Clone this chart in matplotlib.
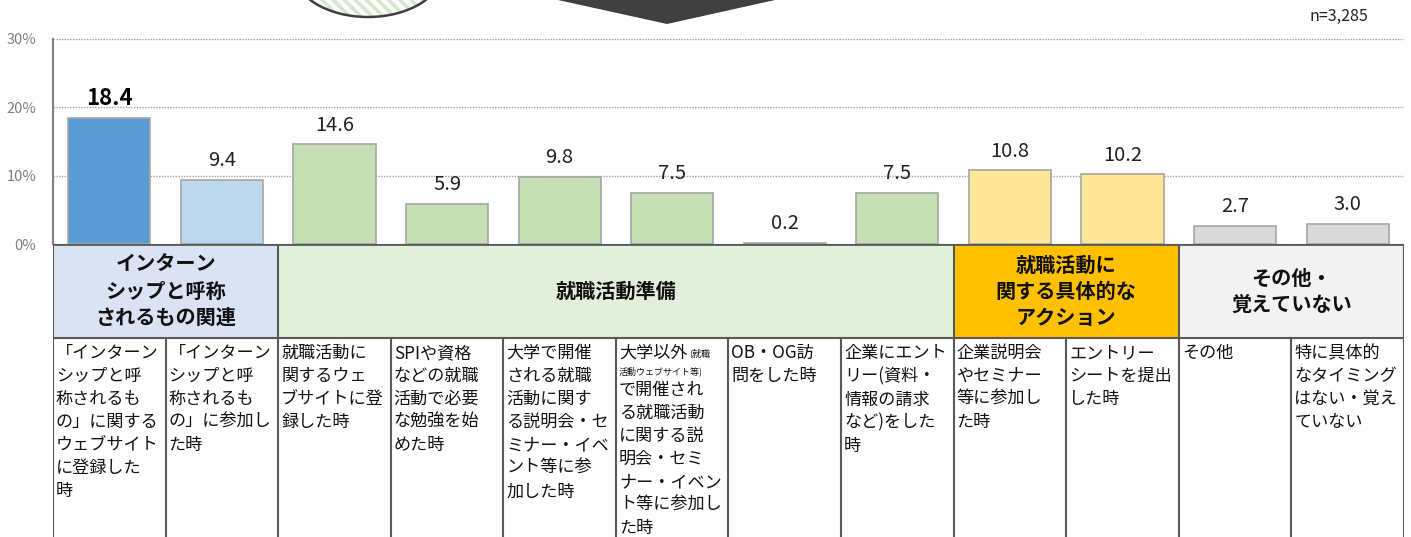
import numpy as np
import matplotlib
matplotlib.use('Agg')
import matplotlib.pyplot as plt
from matplotlib.patches import Rectangle, Ellipse, Polygon

plt.rcParams['font.family'] = ['Noto Sans CJK JP', 'DejaVu Sans']
plt.rcParams['hatch.linewidth'] = 2.5

# データ
values = [18.4, 9.4, 14.6, 5.9, 9.8, 7.5, 0.2, 7.5, 10.8, 10.2, 2.7, 3.0]
bar_colors = ['#5B9BD5', '#BDD7EE',
              '#C5E0B4', '#C5E0B4', '#C5E0B4', '#C5E0B4', '#C5E0B4', '#C5E0B4',
              '#FFE699', '#FFE699', '#D9D9D9', '#D9D9D9']
yticks = [0, 10, 20, 30]
ytick_labels = ['0%', '10%', '20%', '30%']
sample_note = 'n=3,285'

group_names = ['インターン\nシップと呼称\nされるもの関連', '就職活動準備',
               '就職活動に\n関する具体的な\nアクション', 'その他・\n覚えていない']
group_spans = [(0, 2), (2, 8), (8, 10), (10, 12)]
group_colors = ['#DAE3F3', '#E2EFDA', '#FFC000', '#F2F2F2']

item_labels = [
    '「インターン\nシップと呼\n称されるも\nの」に関する\nウェブサイト\nに登録した\n時',
    '「インターン\nシップと呼\n称されるも\nの」に参加し\nた時',
    '就職活動に\n関するウェ\nブサイトに登\n録した時',
    'SPIや資格\nなどの就職\n活動で必要\nな勉強を始\nめた時',
    '大学で開催\nされる就職\n活動に関す\nる説明会・セ\nミナー・イベ\nント等に参\n加した時',
    None,  # 下で個別に描く（小さい文字を含む）
    'OB・OG訪\n問をした時',
    '企業にエント\nリー(資料・\n情報の請求\nなど)をした\n時',
    '企業説明会\nやセミナー\n等に参加し\nた時',
    'エントリー\nシートを提出\nした時',
    'その他',
    '特に具体的\nなタイミング\nはない・覚え\nていない',
]

W, H = 1411, 537
fig = plt.figure(figsize=(W / 100, H / 100), dpi=100)

left, right = 53, 1404
y_top, y_zero = 39, 244

# 棒グラフ
ax = fig.add_axes([left / W, (H - y_zero) / H, (right - left) / W, (y_zero - y_top) / H])
x = np.arange(len(values))
ax.bar(x, values, width=0.73, color=bar_colors, edgecolor='#A6A6A6', linewidth=1.2, zorder=3)
ax.set_xlim(-0.5, len(values) - 0.5)
ax.set_ylim(0, 30)
ax.set_yticks(yticks)
ax.set_yticklabels(ytick_labels, color='#7F7F7F', fontsize=10.5)
ax.tick_params(axis='y', length=0, pad=12)
ax.set_xticks([])
ax.grid(axis='y', linestyle=(0, (1, 1)), color='#A0A0A0', linewidth=1, zorder=0)
for s in ['top', 'right', 'bottom']:
    ax.spines[s].set_visible(False)
ax.spines['left'].set_color('#808080')
ax.spines['left'].set_linewidth(1.5)

for i, v in enumerate(values):
    if i == 0:
        ax.text(i, v + 2.9, f'{v:.1f}', ha='center', va='center', fontsize=16,
                fontweight='bold', color='black', zorder=4)
    else:
        ax.text(i, v + 2.8, f'{v:.1f}', ha='center', va='center', fontsize=14.5,
                color='#222222', zorder=4)

# 表
tb_h = H - y_zero
tax = fig.add_axes([left / W, 0, (right - left) / W, tb_h / H])
tax.set_xlim(-0.5, len(values) - 0.5)
tax.set_ylim(tb_h, 0)
tax.axis('off')
head_h = 94
line_c = '#595959'
col_px = (right - left) / len(values)

for name, (a, b), c in zip(group_names, group_spans, group_colors):
    tax.add_patch(Rectangle((a - 0.5, 0), b - a, head_h, facecolor=c, edgecolor='none'))
    tax.text((a + b - 1) / 2, head_h / 2, name, ha='center', va='center',
             fontsize=14.5, fontweight='bold', linespacing=1.3, color='#111111')
    tax.plot([a - 0.5, a - 0.5], [0, head_h], color=line_c, lw=1.5)
tax.plot([11.5, 11.5], [0, tb_h], color=line_c, lw=1.5)
tax.plot([-0.5, 11.5], [0, 0], color=line_c, lw=2)
tax.plot([-0.5, 11.5], [head_h, head_h], color=line_c, lw=1.5)
for i in range(len(values)):
    tax.plot([i - 0.5, i - 0.5], [head_h, tb_h], color=line_c, lw=1.5)

pad = 3 / col_px
for i, lab in enumerate(item_labels):
    if lab is None:
        continue
    tax.text(i - 0.5 + pad, head_h + 6, lab, ha='left', va='top', fontsize=12.3,
             linespacing=1.36, color='#111111')

# 6番目のセルは括弧内を小さく
i = 5
tax.text(i - 0.5 + pad, head_h + 6, '大学以外', ha='left', va='top', fontsize=12.3, color='#111111')
tax.text(i - 0.5 + pad + 70 / col_px, head_h + 10, '(就職', ha='left', va='top',
         fontsize=6.5, color='#111111')
tax.text(i - 0.5 + pad, head_h + 28, '活動ウェブサイト等)', ha='left', va='top',
         fontsize=6.5, color='#111111')
tax.text(i - 0.5 + pad, head_h + 43,
         'で開催され\nる就職活動\nに関する説\n明会・セミ\nナー・イベン\nト等に参加し\nた時',
         ha='left', va='top', fontsize=12.3, linespacing=1.36, color='#111111')

# 上部の装飾と注記
ov = fig.add_axes([0, 0, 1, 1])
ov.set_xlim(0, W)
ov.set_ylim(H, 0)
ov.axis('off')
ov.add_patch(Ellipse((368, -30), 150, 94, facecolor='white', edgecolor='#D5E8CB', hatch='\\\\\\', lw=0))
ov.add_patch(Ellipse((368, -30), 150, 94, facecolor='none', edgecolor='#404040', lw=1.8))
ov.add_patch(Polygon([[558, 0], [775, 0], [667, 24]], closed=True, facecolor='#404040', edgecolor='none'))
ov.text(1368, 16, sample_note, ha='right', va='center', fontsize=11.5, color='#222222')

fig.savefig('out.png', dpi=100)
